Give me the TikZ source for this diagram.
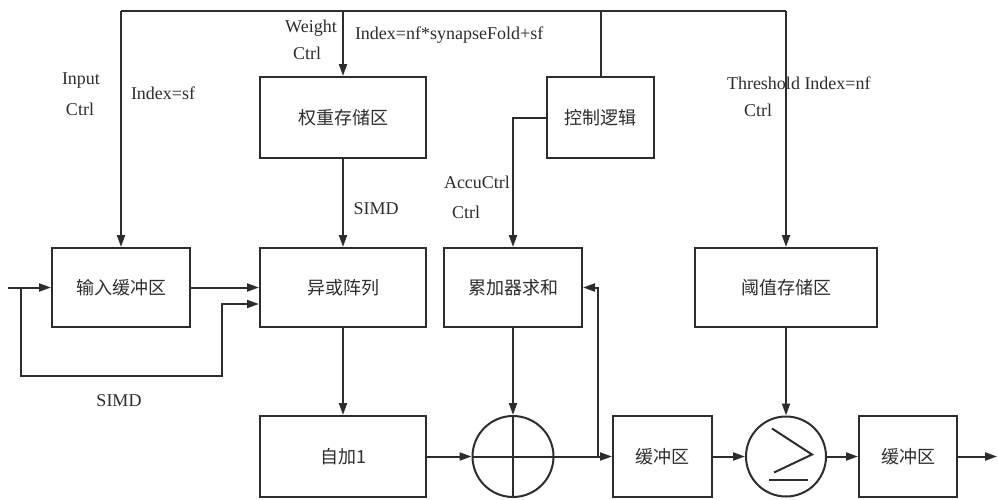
\documentclass[tikz,border=0pt]{standalone}
\usepackage{fontspec}
\setmainfont{Liberation Serif}
\newfontfamily\cjk{Noto Sans CJK SC}
\usetikzlibrary{arrows.meta}
\definecolor{ink}{RGB}{45,45,45}
\begin{document}
\begin{tikzpicture}[x=1pt,y=-1pt,
  line width=2pt, draw=ink, text=ink,
  box/.style={draw, rectangle, inner sep=0pt, font=\cjk\fontsize{18}{20}\selectfont},
  circ/.style={draw, circle, inner sep=0pt, minimum size=81pt},
  arr/.style={-{Triangle[length=12pt,width=8pt]}},
  lbl/.style={inner sep=0pt, font=\fontsize{18}{20}\selectfont}]
\useasboundingbox (0,0) rectangle (998,499);
% boxes
\node[box, minimum width=166pt, minimum height=81pt] (wbox) at (343,117.5) {权重存储区};
\node[box, minimum width=107pt, minimum height=81pt] (ctrl) at (600.5,117.5) {控制逻辑};
\node[box, minimum width=138pt, minimum height=79pt] (inbuf) at (121,287.5) {输入缓冲区};
\node[box, minimum width=166pt, minimum height=79pt] (xor) at (343,287.5) {异或阵列};
\node[box, minimum width=138pt, minimum height=79pt] (acc) at (513,287.5) {累加器求和};
\node[box, minimum width=182pt, minimum height=79pt] (thr) at (786,287.5) {阈值存储区};
\node[box, minimum width=166pt, minimum height=81pt] (inc) at (343,456.5) {自加1};
\node[box, minimum width=99pt, minimum height=81pt] (buf1) at (662.5,456.5) {缓冲区};
\node[box, minimum width=98pt, minimum height=81pt] (buf2) at (908,456.5) {缓冲区};
\node[circ] (sum) at (513,456.5) {};
\node[circ, minimum size=80pt] (cmp) at (786,456.5) {};
% symbols in circles
\draw (sum.north) -- (sum.south);
\draw (sum.west) -- (sum.east);
\draw (cmp.center) ++(-14,-28) -- ++(40,26) -- ++(-38,18);
\draw (cmp.center) ++(-17,23) -- ++(39,0);
% top bus
\coordinate (tl) at (121,11);
\coordinate (tr) at (786,11);
\draw (tl) -- (tr);
\draw[arr] (tl) -- (inbuf.north);
\draw[arr] (wbox.north |- tl) -- (wbox.north);
\draw (ctrl.north |- tl) -- (ctrl.north);
\draw[arr] (tr) -- (thr.north);
\draw[arr] (ctrl.west) -| (acc.north);
\draw[arr] (wbox) -- (xor);
% input path
\coordinate (in) at (8,287.5);
\coordinate (br) at (21,287.5);
\coordinate (fb) at (222,304);
\draw[arr] (in) -- (inbuf.west);
\draw[arr] (br) -- (21,375.5) -| (fb) -- (xor.west |- fb);
\draw[arr] (inbuf.east) -- (xor.west |- inbuf.east);
\draw[arr] (xor) -- (inc);
\draw[arr] (inc.east) -- (sum.west);
\draw[arr] (acc.south) -- (sum.north);
\draw[arr] (sum.east) -- (buf1.west);
\coordinate (fk) at (598,456.5);
\draw[arr] (fk) |- (acc.east);
\draw[arr] (buf1.east) -- (cmp.west);
\draw[arr] (thr.south) -- (cmp.north);
\draw[arr] (cmp.east) -- (buf2.west);
\coordinate (out) at (997,456.5);
\draw[arr] (buf2.east) -- (out);
% labels
\node[lbl] (l1) at (81,81) {Input};
\node[lbl] (l2) at (80,109) {Ctrl};
\node[lbl, anchor=west] (l3) at (130,93) {Index=sf};
\node[lbl] (l4) at (311,28) {Weight};
\node[lbl] (l5) at (307,53) {Ctrl};
\node[lbl, anchor=west] (l6) at (354,35) {Index=nf*synapseFold+sf};
\node[lbl, anchor=west] (l7) at (726,83) {Threshold Index=nf};
\node[lbl] (l8) at (758,110) {Ctrl};
\node[lbl, anchor=west] (l9) at (443,182) {AccuCtrl};
\node[lbl, anchor=west] (l10) at (451,212) {Ctrl};
\node[lbl] (l11) at (376,209) {SIMD};
\node[lbl] (l12) at (119,401) {SIMD};
\end{tikzpicture}
\end{document}
